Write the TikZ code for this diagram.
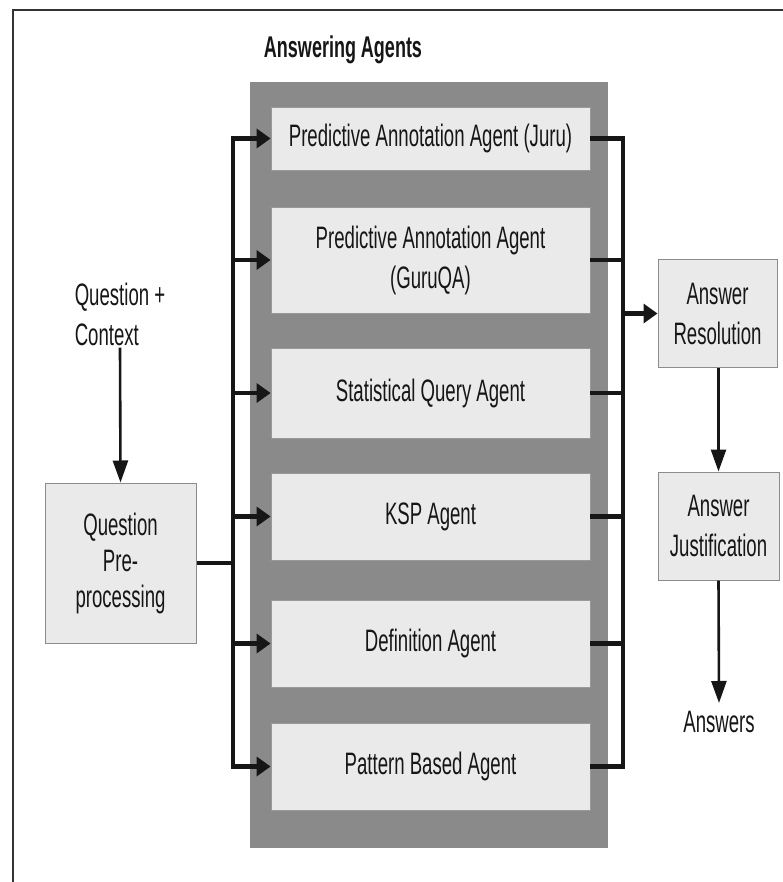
\documentclass[tikz,border=0pt]{standalone}
\usepackage{fontspec}
\setmainfont[FakeStretch=0.6]{Liberation Sans}
\usetikzlibrary{arrows.meta}
\definecolor{panelgray}{RGB}{138,138,138}
\definecolor{boxfill}{RGB}{234,234,234}
\definecolor{inkblack}{RGB}{22,22,22}
\begin{document}
\begin{tikzpicture}[x=1pt,y=-1pt,
  every node/.style={font=\fontsize{31}{40}\selectfont, text=inkblack},
  agentbox/.style={draw=black!40, line width=0.8pt, fill=boxfill,
    minimum width=319pt, inner sep=0pt, align=center},
  sidebox/.style={draw=black!45, line width=1pt, fill=boxfill,
    inner sep=0pt, align=center},
  label/.style={align=center, inner sep=0pt},
  flow/.style={line width=4.5pt, draw=inkblack},
  arr/.style={flow, -{Triangle[length=14pt,width=19pt]}},
  thinarr/.style={line width=2.6pt, draw=inkblack, -{Triangle[length=22pt,width=15pt]}},
]
\useasboundingbox (0,0) rectangle (783,882);

% outer frame (open to the right and bottom)
\draw[line width=1.6pt, black!80] (13,882) -- (13,10) -- (783,10);

% panel holding the answering agents
\fill[panelgray] (250,82) rectangle (608,848);
\node[font=\fontsize{30}{36}\selectfont\bfseries] (title) at (343,50) {Answering Agents};

% agents
\node[agentbox, minimum height=63pt]  (a1) at (430.5,138.5) {Predictive Annotation Agent (Juru)};
\node[agentbox, minimum height=106pt] (a2) at (430.5,260)   {Predictive Annotation Agent\\(GuruQA)};
\node[agentbox, minimum height=90pt]  (a3) at (430.5,393)   {Statistical Query Agent};
\node[agentbox, minimum height=87pt]  (a4) at (430.5,516.5) {KSP Agent};
\node[agentbox, minimum height=87pt]  (a5) at (430.5,643.5) {Definition Agent};
\node[agentbox, minimum height=87pt]  (a6) at (430.5,766.5) {Pattern Based Agent};

% input side
\node[label, align=left, inner ysep=2pt] (qc) at (120,314) {Question +\\Context};
\node[sidebox, minimum width=151pt, minimum height=160pt, font=\fontsize{31}{36}\selectfont]
  (qp) at (120.5,563) {Question\\Pre-\\processing};

% output side
\node[sidebox, minimum width=119pt, minimum height=107pt] (ar) at (717.5,313.5) {Answer\\Resolution};
\node[sidebox, minimum width=121pt, minimum height=108pt] (aj) at (718.5,526)   {Answer\\Justification};
\node[label, inner ysep=8pt] (ans) at (719,722) {Answers};

% distribution bus and collector bus
\coordinate (lb) at (233,0);
\coordinate (rb) at (623,0);

\draw[thinarr] (qc.south) -- (qp.north);
\draw[flow] (qp.east) -- (qp.east -| lb);
\draw[flow, line cap=rect] (lb |- a1.west) -- (lb |- a6.west);
\foreach \a in {a1,a2,a3,a4,a5,a6}{
  \draw[arr] (lb |- \a.west) -- (\a.west);
  \draw[flow] (\a.east) -- (\a.east -| rb);
}
\draw[flow, line cap=rect] (rb |- a1.east) -- (rb |- a6.east);
\draw[arr] (rb |- ar.west) -- (ar.west);

\draw[thinarr] (ar.south -| aj.north) -- (aj.north);
\draw[thinarr] (aj.south) -- (ans.north);
\end{tikzpicture}
\end{document}
